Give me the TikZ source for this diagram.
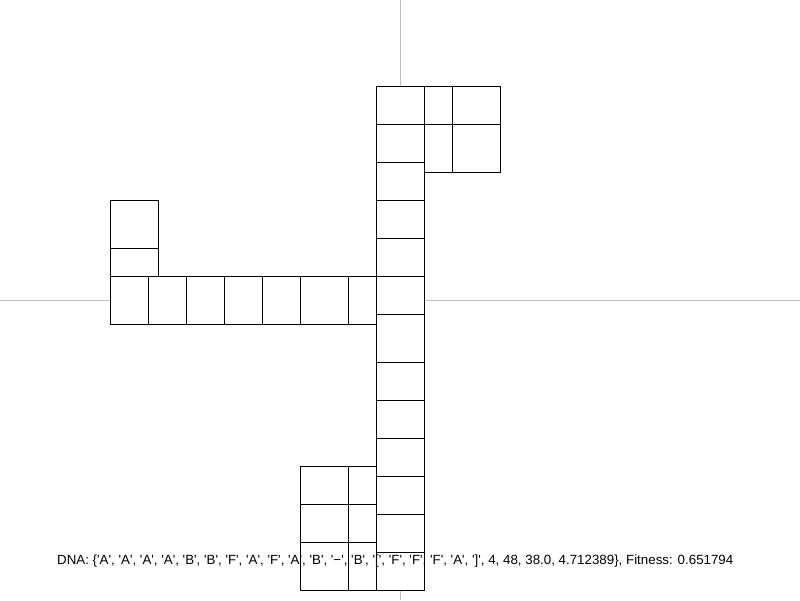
\documentclass[tikz,border=0pt]{standalone}
\usepackage{fontspec}
\newfontfamily\dnafont{Liberation Sans}
\begin{document}
\begin{tikzpicture}[x=1pt,y=-1pt,
  axis/.style={draw=black!25,line width=1pt},
  cell/.style={draw=black,line width=1pt,fill=white}]
\useasboundingbox (0,0) rectangle (800,600);
\fill[white] (0,0) rectangle (800,600);
\draw[axis] (400,0) -- (400,600);
\draw[axis] (0,300) -- (800,300);
\def\cells{376/86/424/124, 376/124/424/162, 376/162/424/200, 376/200/424/238,
  376/238/424/276, 376/276/424/314, 376/314/424/362, 376/362/424/400,
  376/400/424/438, 376/438/424/476, 376/476/424/514, 376/514/424/552,
  376/552/424/590,
  424/86/452/124, 452/86/500/124, 424/124/452/172, 452/124/500/172,
  110/276/148/324, 148/276/186/324, 186/276/224/324, 224/276/262/324,
  262/276/300/324, 300/276/348/324, 348/276/376/324,
  110/200/158/248, 110/248/158/276,
  300/466/348/504, 348/466/376/504, 300/504/348/542, 348/504/376/542,
  300/542/348/590, 348/542/376/590}
\foreach \a/\b/\c/\d in \cells { \fill[white] (\a,\b) rectangle (\c,\d); }
\node[anchor=base west,inner sep=0pt] (dna) at (57,564) {\resizebox{676pt}{!}{\dnafont DNA: \{'A', 'A', 'A', 'A', 'B', 'B', 'F', 'A', 'F', 'A', 'B', '−', 'B', '[', 'F', 'F', 'F', 'A', ']', 4, 48, 38.0, 4.712389\}, Fitness: 0.651794}};
\foreach \a/\b/\c/\d in \cells { \draw[line width=1pt] (\a,\b) rectangle (\c,\d); }
\end{tikzpicture}
\end{document}
